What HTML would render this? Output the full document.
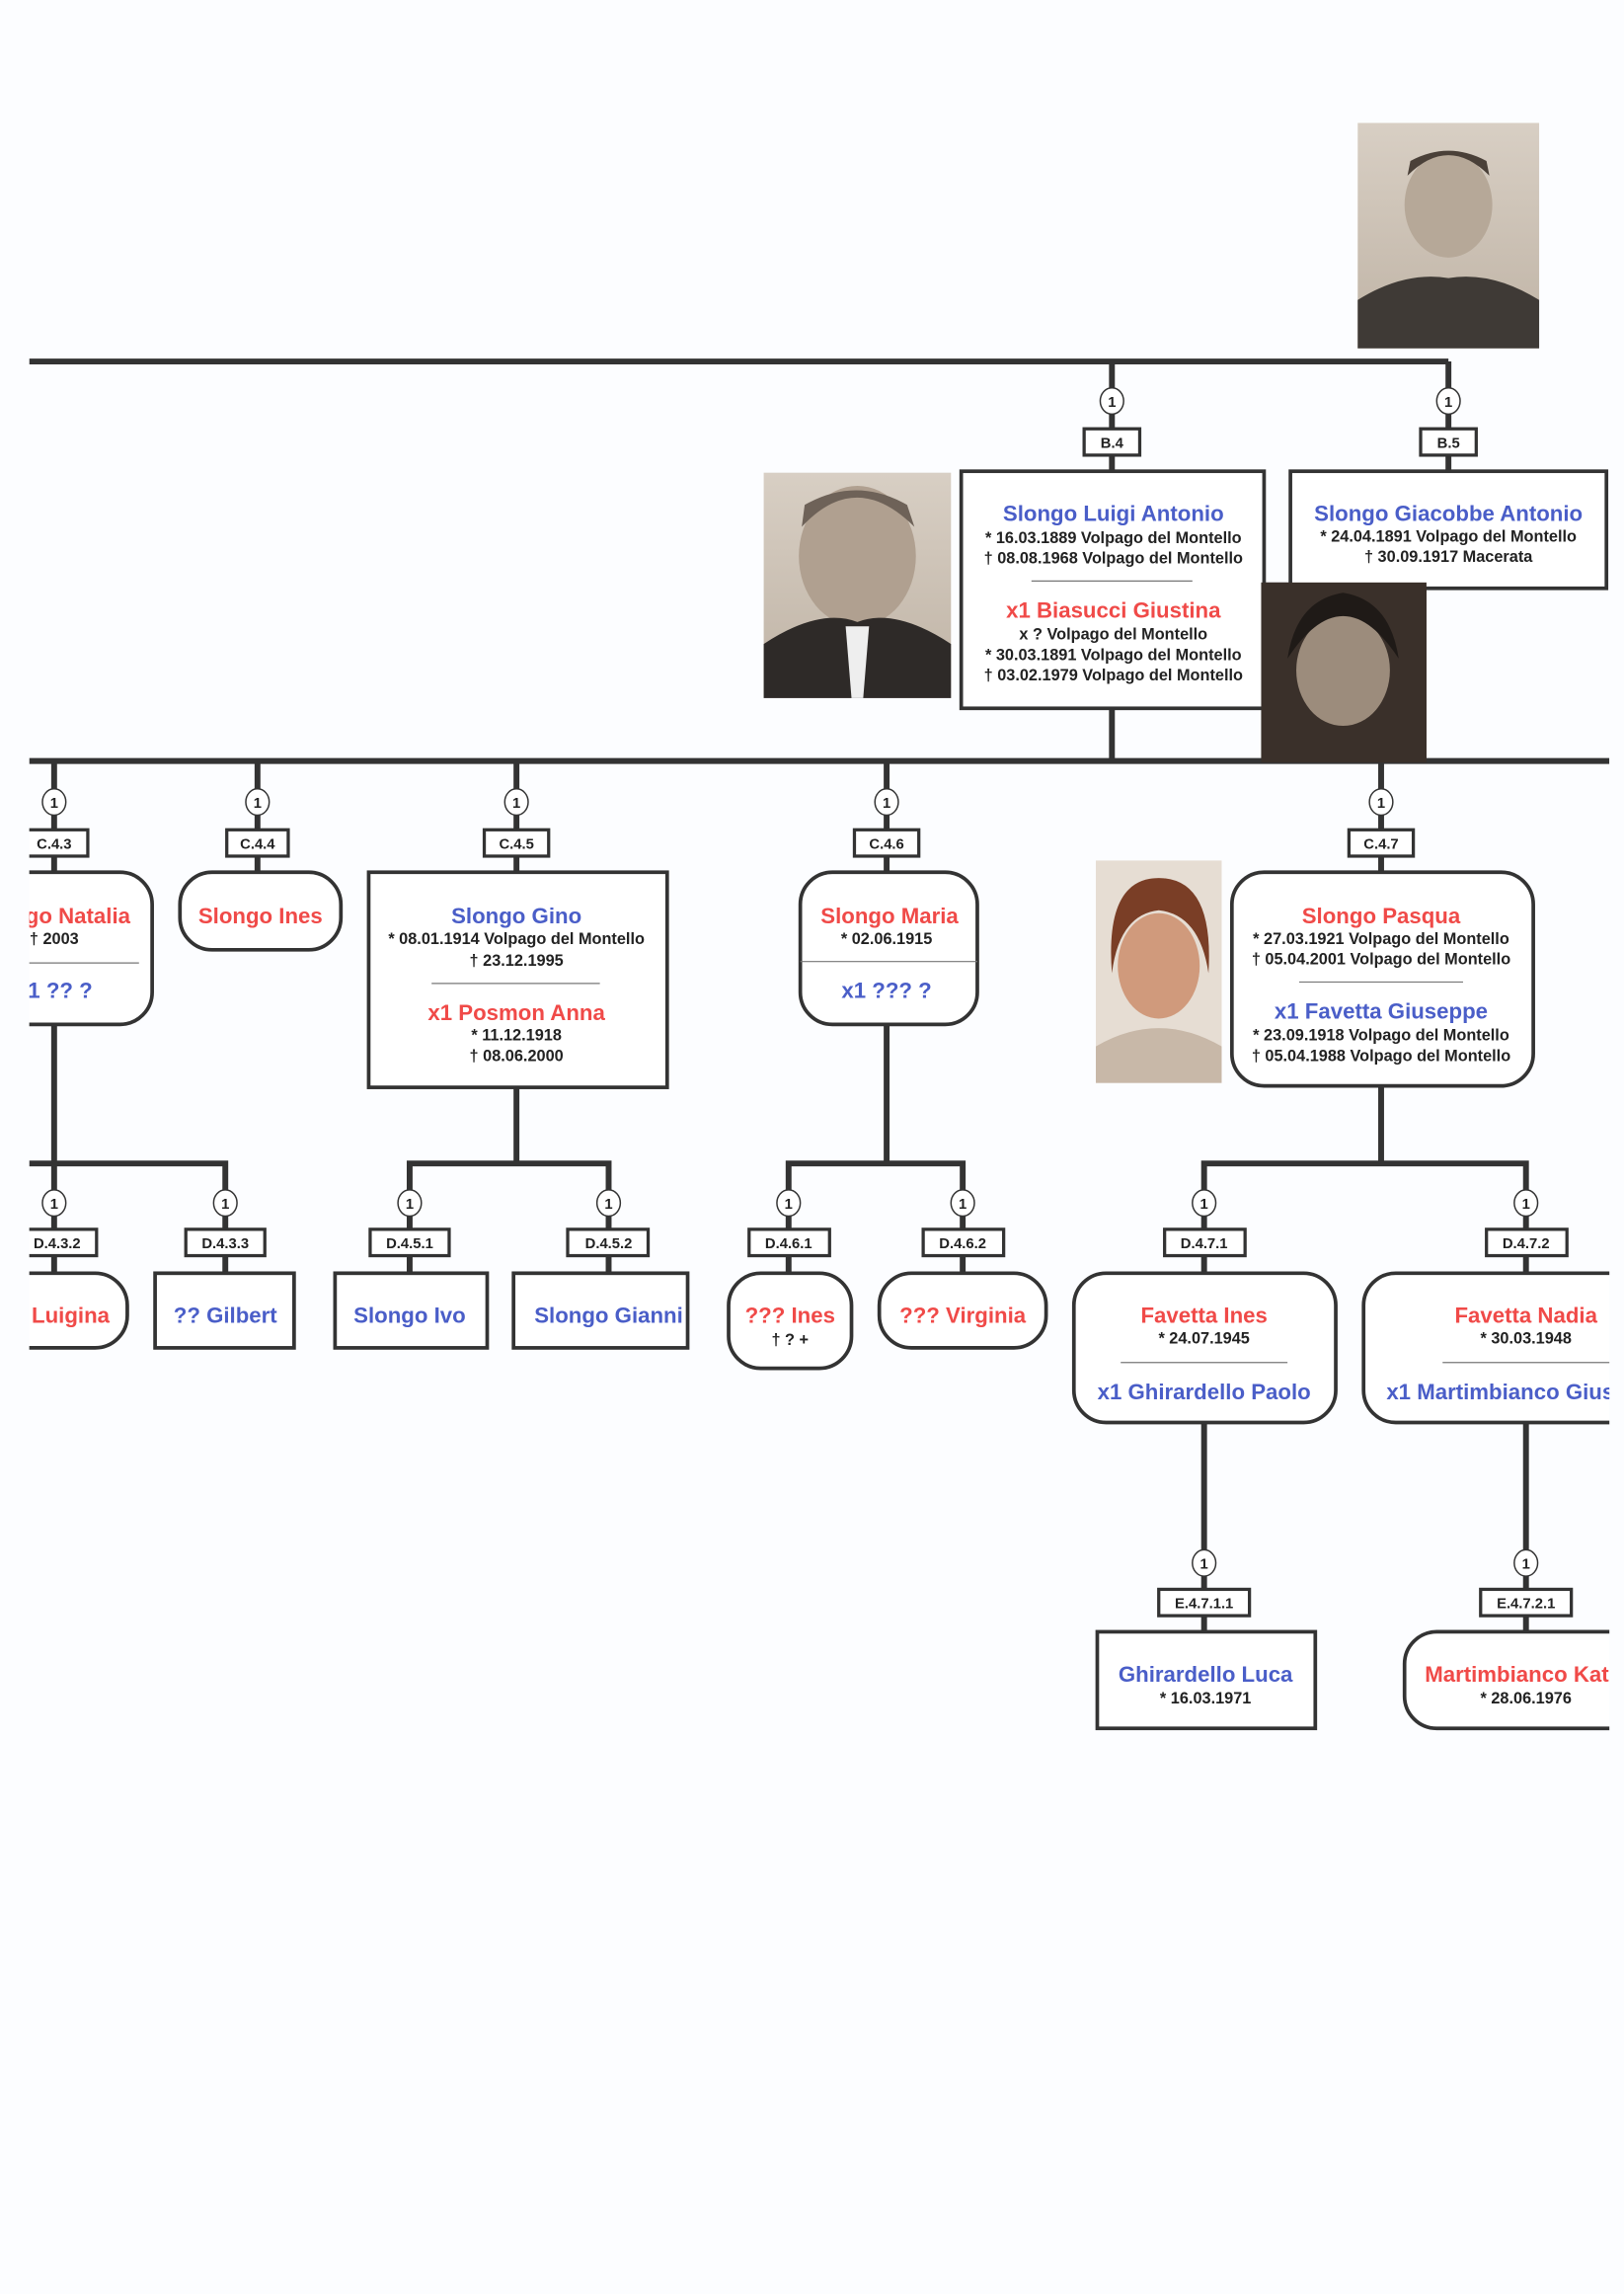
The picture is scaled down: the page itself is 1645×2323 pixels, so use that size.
<!DOCTYPE html>
<html><head><meta charset="utf-8"><style>
html,body{margin:0;padding:0;background:#fcfdff;}
svg{display:block}
text{font-family:"Liberation Sans",Arial,sans-serif;font-weight:bold;text-anchor:middle;}
.t{font-size:15px}
.s{font-size:11px;fill:#222}
.b{fill:#4a5ec8}
.r{fill:#f04a48}
.l{font-size:10px;fill:#222}
.bx{fill:#fff;stroke:#333;stroke-width:2.5}
.ln{stroke:#333;stroke-width:4;fill:none}
.sep{stroke:#777;stroke-width:0.8}
</style></head><body>
<svg width="1645" height="2323" viewBox="0 0 1110 1567.5" preserveAspectRatio="none" xmlns="http://www.w3.org/2000/svg">
<defs>
<clipPath id="c"><rect x="20" y="0" width="1080" height="1568"/></clipPath>
<linearGradient id="g1" x1="0" y1="0" x2="0" y2="1"><stop offset="0" stop-color="#c9c2b8"/><stop offset="0.6" stop-color="#9a8f84"/><stop offset="1" stop-color="#4a443f"/></linearGradient>
<linearGradient id="g2" x1="0" y1="0" x2="0" y2="1"><stop offset="0" stop-color="#d8cfc4"/><stop offset="1" stop-color="#bfb3a5"/></linearGradient>
</defs>
<rect width="1110" height="1568" fill="#fcfdff"/>
<!-- photos -->
<rect x="928" y="84" width="124" height="154" fill="url(#g2)"/>
<ellipse cx="990" cy="140" rx="30" ry="36" fill="#b6a898"/>
<path d="M962 120 Q990 92 1018 120 L1016 110 Q990 96 964 110Z" fill="#4a4038"/>
<path d="M928 238 L928 205 Q960 185 990 190 Q1020 185 1052 205 L1052 238Z" fill="#3f3a36"/>
<g clip-path="url(#c)">
<rect x="522" y="323" width="128" height="154" fill="url(#g2)"/>
<ellipse cx="586" cy="380" rx="40" ry="48" fill="#b0a090"/>
<path d="M548 360 Q585 320 625 360 L620 345 Q585 325 550 345Z" fill="#6e6258"/>
<path d="M522 477 L522 440 Q560 415 586 425 Q612 415 650 440 L650 477Z" fill="#2e2a28"/>
<path d="M578 428 L594 428 L590 477 L582 477Z" fill="#eee"/>
<rect x="862" y="398" width="113" height="123" fill="#3a302a"/>
<ellipse cx="918" cy="455" rx="32" ry="38" fill="#9c8c7c"/>
<path d="M880 445 Q918 392 956 445 Q950 410 918 405 Q886 410 880 445Z" fill="#1f1a17"/>
<rect x="749" y="588" width="86" height="152" fill="#e6ddd3"/>
<ellipse cx="792" cy="660" rx="28" ry="36" fill="#d09a7c"/>
<path d="M760 665 Q755 600 792 600 Q830 600 826 665 Q820 625 792 622 Q765 625 760 665Z" fill="#7a3e26"/>
<path d="M749 740 L749 715 Q792 690 835 715 L835 740Z" fill="#c8b8a8"/>

<!-- lines -->
<path class="ln" d="M20 247 H990 M760 247 V322 M990 247 V322"/>
<path class="ln" d="M760 484 V520 M20 520 H1100 M37 520 V596 M176 520 V596 M353 520 V596 M606 520 V596 M944 520 V596"/>
<path class="ln" d="M37 700 V870 M20 795 H154 V870"/>
<path class="ln" d="M353 743 V795 M280 870 V795 H416 V870"/>
<path class="ln" d="M606 700 V795 M539 870 V795 H658 V870"/>
<path class="ln" d="M944 742 V795 M823 870 V795 H1043 V870"/>
<path class="ln" d="M823 972 V1115 M1043 972 V1115"/>

<!-- circles & labels -->
<g fill="#fff" stroke="#333" stroke-width="1">
<ellipse cx="760" cy="274" rx="8" ry="9"/><ellipse cx="990" cy="274" rx="8" ry="9"/>
<ellipse cx="37" cy="548" rx="8" ry="9"/><ellipse cx="176" cy="548" rx="8" ry="9"/><ellipse cx="353" cy="548" rx="8" ry="9"/><ellipse cx="606" cy="548" rx="8" ry="9"/><ellipse cx="944" cy="548" rx="8" ry="9"/>
<ellipse cx="37" cy="822" rx="8" ry="9"/><ellipse cx="154" cy="822" rx="8" ry="9"/><ellipse cx="280" cy="822" rx="8" ry="9"/><ellipse cx="416" cy="822" rx="8" ry="9"/><ellipse cx="539" cy="822" rx="8" ry="9"/><ellipse cx="658" cy="822" rx="8" ry="9"/><ellipse cx="823" cy="822" rx="8" ry="9"/><ellipse cx="1043" cy="822" rx="8" ry="9"/>
<ellipse cx="823" cy="1068" rx="8" ry="9"/><ellipse cx="1043" cy="1068" rx="8" ry="9"/>
</g>
<g class="l">
<text x="760" y="278" class="l">1</text><text x="990" y="278" class="l">1</text>
<text x="37" y="552" class="l">1</text><text x="176" y="552" class="l">1</text><text x="353" y="552" class="l">1</text><text x="606" y="552" class="l">1</text><text x="944" y="552" class="l">1</text>
<text x="37" y="826" class="l">1</text><text x="154" y="826" class="l">1</text><text x="280" y="826" class="l">1</text><text x="416" y="826" class="l">1</text><text x="539" y="826" class="l">1</text><text x="658" y="826" class="l">1</text><text x="823" y="826" class="l">1</text><text x="1043" y="826" class="l">1</text>
<text x="823" y="1072" class="l">1</text><text x="1043" y="1072" class="l">1</text>
</g>
<g fill="#fff" stroke="#333" stroke-width="2.2">
<rect x="741" y="293" width="38" height="18"/><rect x="971" y="293" width="38" height="18"/>
<rect x="14" y="567" width="46" height="18"/><rect x="155" y="567" width="42" height="18"/><rect x="331" y="567" width="44" height="18"/><rect x="584" y="567" width="44" height="18"/><rect x="922" y="567" width="44" height="18"/>
<rect x="12" y="840" width="54" height="18"/><rect x="127" y="840" width="54" height="18"/><rect x="253" y="840" width="54" height="18"/><rect x="388" y="840" width="55" height="18"/><rect x="512" y="840" width="55" height="18"/><rect x="631" y="840" width="55" height="18"/><rect x="796" y="840" width="55" height="18"/><rect x="1016" y="840" width="55" height="18"/>
<rect x="792" y="1086" width="62" height="18"/><rect x="1012" y="1086" width="62" height="18"/>
</g>
<g class="l">
<text x="760" y="306">B.4</text><text x="990" y="306">B.5</text>
<text x="37" y="580">C.4.3</text><text x="176" y="580">C.4.4</text><text x="353" y="580">C.4.5</text><text x="606" y="580">C.4.6</text><text x="944" y="580">C.4.7</text>
<text x="39" y="853">D.4.3.2</text><text x="154" y="853">D.4.3.3</text><text x="280" y="853">D.4.5.1</text><text x="416" y="853">D.4.5.2</text><text x="539" y="853">D.4.6.1</text><text x="658" y="853">D.4.6.2</text><text x="823" y="853">D.4.7.1</text><text x="1043" y="853">D.4.7.2</text>
<text x="823" y="1099">E.4.7.1.1</text><text x="1043" y="1099">E.4.7.2.1</text>
</g>

<!-- B boxes -->
<rect class="bx" x="657" y="322" width="207" height="162"/>
<text class="t b" x="761" y="356">Slongo Luigi Antonio</text>
<text class="s" x="761" y="371">* 16.03.1889 Volpago del Montello</text>
<text class="s" x="761" y="385">† 08.08.1968 Volpago del Montello</text>
<line class="sep" x1="705" y1="397" x2="815" y2="397"/>
<text class="t r" x="761" y="422">x1 Biasucci Giustina</text>
<text class="s" x="761" y="437">x ? Volpago del Montello</text>
<text class="s" x="761" y="451">* 30.03.1891 Volpago del Montello</text>
<text class="s" x="761" y="465">† 03.02.1979 Volpago del Montello</text>
<rect class="bx" x="882" y="322" width="216" height="80"/>
<text class="t b" x="990" y="356">Slongo Giacobbe Antonio</text>
<text class="s" x="990" y="370">* 24.04.1891 Volpago del Montello</text>
<text class="s" x="990" y="384">† 30.09.1917 Macerata</text>
<!-- redraw woman photo over box edge -->
<rect x="862" y="398" width="113" height="123" fill="#3a302a"/>
<ellipse cx="918" cy="458" rx="32" ry="38" fill="#9c8c7c"/>
<path d="M880 450 Q918 392 956 450 Q950 410 918 405 Q886 410 880 450Z" fill="#1f1a17"/>

<!-- C boxes -->
<rect class="bx" x="-60" y="596" width="164" height="104" rx="22"/>
<text class="t r" x="37" y="631">Slongo Natalia</text>
<text class="s" x="37" y="645">† 2003</text>
<line class="sep" x1="-20" y1="658" x2="95" y2="658"/>
<text class="t b" x="37" y="682">x1 ?? ?</text>
<rect class="bx" x="123" y="596" width="110" height="53" rx="22"/>
<text class="t r" x="178" y="631">Slongo Ines</text>
<rect class="bx" x="252" y="596" width="204" height="147"/>
<text class="t b" x="353" y="631">Slongo Gino</text>
<text class="s" x="353" y="645">* 08.01.1914 Volpago del Montello</text>
<text class="s" x="353" y="660">† 23.12.1995</text>
<line class="sep" x1="295" y1="672" x2="410" y2="672"/>
<text class="t r" x="353" y="697">x1 Posmon Anna</text>
<text class="s" x="353" y="711">* 11.12.1918</text>
<text class="s" x="353" y="725">† 08.06.2000</text>
<rect class="bx" x="547" y="596" width="121" height="104" rx="22"/>
<text class="t r" x="608" y="631">Slongo Maria</text>
<text class="s" x="606" y="645">* 02.06.1915</text>
<line class="sep" x1="547" y1="657" x2="668" y2="657"/>
<text class="t b" x="606" y="682">x1 ??? ?</text>
<rect class="bx" x="842" y="596" width="206" height="146" rx="22"/>
<text class="t r" x="944" y="631">Slongo Pasqua</text>
<text class="s" x="944" y="645">* 27.03.1921 Volpago del Montello</text>
<text class="s" x="944" y="659">† 05.04.2001 Volpago del Montello</text>
<line class="sep" x1="888" y1="671" x2="1000" y2="671"/>
<text class="t b" x="944" y="696">x1 Favetta Giuseppe</text>
<text class="s" x="944" y="711">* 23.09.1918 Volpago del Montello</text>
<text class="s" x="944" y="725">† 05.04.1988 Volpago del Montello</text>

<!-- D boxes -->
<rect class="bx" x="-20" y="870" width="107" height="51" rx="22"/>
<text class="t r" x="37" y="904">?? Luigina</text>
<rect class="bx" x="106" y="870" width="95" height="51"/>
<text class="t b" x="154" y="904">?? Gilbert</text>
<rect class="bx" x="229" y="870" width="104" height="51"/>
<text class="t b" x="280" y="904">Slongo Ivo</text>
<rect class="bx" x="351" y="870" width="119" height="51"/>
<text class="t b" x="416" y="904">Slongo Gianni</text>
<rect class="bx" x="498" y="870" width="84" height="65" rx="22"/>
<text class="t r" x="540" y="904">??? Ines</text>
<text class="s" x="540" y="919">† ? +</text>
<rect class="bx" x="601" y="870" width="114" height="51" rx="22"/>
<text class="t r" x="658" y="904">??? Virginia</text>
<rect class="bx" x="734" y="870" width="179" height="102" rx="22"/>
<text class="t r" x="823" y="904">Favetta Ines</text>
<text class="s" x="823" y="918">* 24.07.1945</text>
<line class="sep" x1="766" y1="931" x2="880" y2="931"/>
<text class="t b" x="823" y="956">x1 Ghirardello Paolo</text>
<rect class="bx" x="932" y="870" width="220" height="102" rx="22"/>
<text class="t r" x="1043" y="904">Favetta Nadia</text>
<text class="s" x="1043" y="918">* 30.03.1948</text>
<line class="sep" x1="986" y1="931" x2="1110" y2="931"/>
<text class="t b" x="1043" y="956">x1 Martimbianco Giuseppe</text>

<!-- E boxes -->
<rect class="bx" x="750" y="1115" width="149" height="66"/>
<text class="t b" x="824" y="1149">Ghirardello Luca</text>
<text class="s" x="824" y="1164">* 16.03.1971</text>
<rect class="bx" x="960" y="1115" width="180" height="66" rx="22"/>
<text class="t r" x="1043" y="1149">Martimbianco Katia</text>
<text class="s" x="1043" y="1164">* 28.06.1976</text>
</g>
</svg>
</body></html>
